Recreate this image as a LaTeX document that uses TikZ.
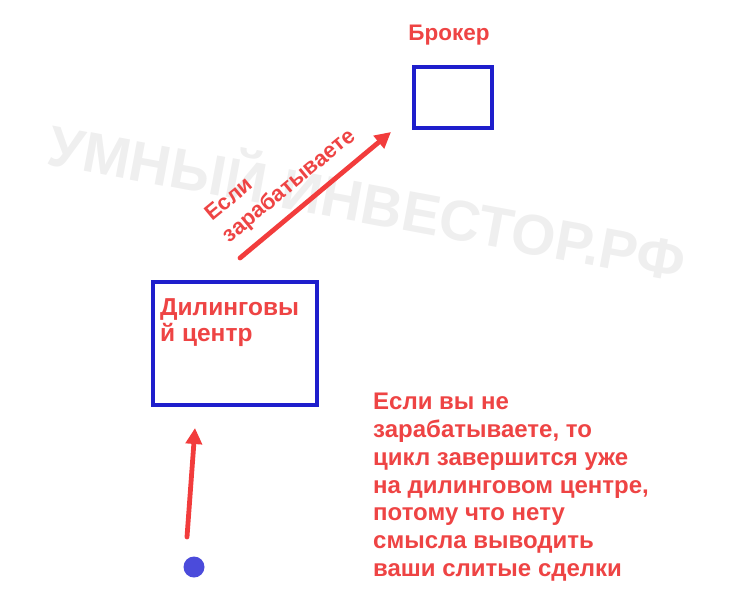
\documentclass[tikz,border=0pt]{standalone}
\usepackage{fontspec}
\setmainfont{Liberation Sans}
\usetikzlibrary{arrows.meta}
\definecolor{redtxt}{HTML}{EE4444}
\definecolor{redarr}{HTML}{F23C3C}
\definecolor{boxblue}{HTML}{1E1ECC}
\definecolor{dotblue}{HTML}{4B4BDB}
\definecolor{wm}{HTML}{EFEFEF}
\tikzset{
  lbl/.style={text=redtxt, font=\bfseries\fontsize{24}{27.8}\selectfont, inner sep=0pt},
  box/.style={draw=boxblue, line width=3.4pt, inner sep=0pt},
  redarrow/.style={draw=redarr, line width=4.8pt, line cap=round, -{Triangle[length=16pt,width=16pt]}},
}
\begin{document}
\begin{tikzpicture}[x=1pt,y=-1pt]
\useasboundingbox (0,0) rectangle (734,600);
% watermark
\node[text=wm, font=\bfseries\fontsize{57}{57}\selectfont, rotate=-10.5, inner sep=0pt] (wm) at (368,198) {УМНЫЙ ИНВЕСТОР.РФ};
% broker
\node[box, minimum width=78pt, minimum height=61pt] (broker) at (453,97.5) {};
\node[lbl, font=\bfseries\fontsize{22.5}{26}\selectfont] (brokerlbl) at (449,35) {Брокер};
% dealing center
\node[box, minimum width=164pt, minimum height=123pt] (dc) at (235,343.5) {};
\node[lbl, font=\bfseries\fontsize{24.5}{26}\selectfont, align=left, anchor=north west] (dclbl) at (160,298) {Дилинговы\\й центр};
% dot
\node[circle, fill=dotblue, minimum size=21pt, inner sep=0pt] (dot) at (194,567) {};
% arrows
\coordinate (a1s) at (240,258);
\coordinate (a1e) at (391,132);
\draw[redarrow] (a1s) -- (a1e);
\coordinate (a2s) at (187,537);
\coordinate (a2e) at (195,428);
\draw[redarrow] (a2s) -- (a2e);
% rotated label
\node[lbl, font=\bfseries\fontsize{22}{27.5}\selectfont, align=left, rotate=39.6] (arrlbl) at (281,176) {Если\\зарабатываете};
% explanation
\node[lbl, align=left, anchor=north west] (expl) at (373,393) {Если вы не\\зарабатываете, то\\цикл завершится уже\\на дилинговом центре,\\потому что нету\\смысла выводить\\ваши слитые сделки};
\end{tikzpicture}
\end{document}
